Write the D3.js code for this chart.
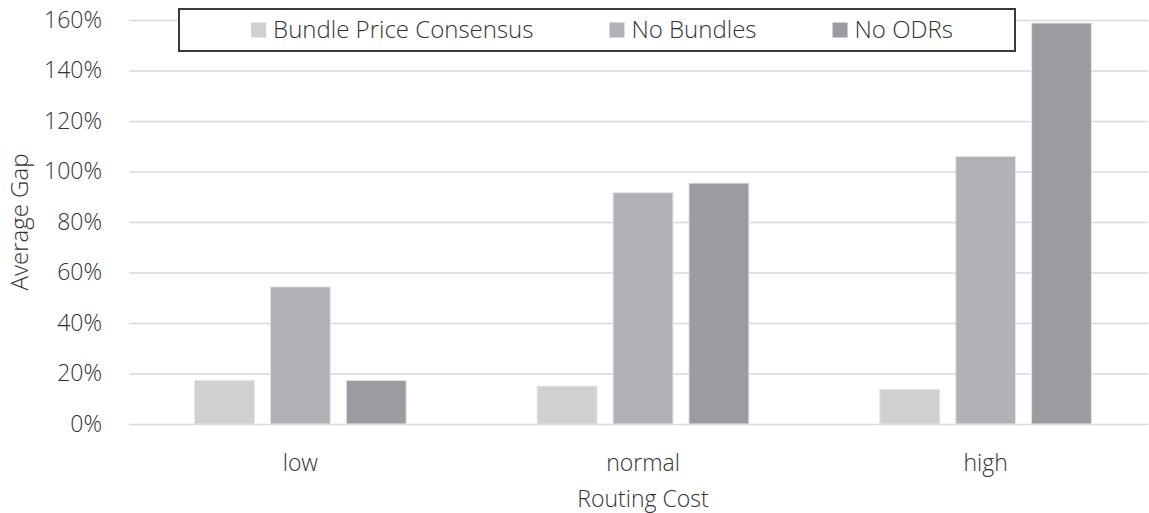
<!DOCTYPE html>
<html>
<head>
<meta charset="utf-8">
<script src="https://cdn.jsdelivr.net/npm/d3@7"></script>
<style>
  html, body { margin: 0; padding: 0; background: #fff; }
  svg { display: block; }
  text { font-family: "Open Sans", "Noto Sans", sans-serif; font-weight: 300; fill: #333; }
</style>
</head>
<body>
<svg id="chart" width="1149" height="513"></svg>
<script>
// Routing cost scenarios and the average gap of each method
const categories = ["low", "normal", "high"];
const seriesNames = ["Bundle Price Consensus", "No Bundles", "No ODRs"];
const bundlePriceConsensus = [0.173, 0.150, 0.137];
const noBundles = [0.543, 0.916, 1.060];
const noODRs = [0.173, 0.954, 1.588];
const yTicks = [0, 0.2, 0.4, 0.6, 0.8, 1.0, 1.2, 1.4, 1.6];
const seriesColors = ["#cfd0d2", "#b1b2b5", "#9b9ca0"];

const seriesValues = [bundlePriceConsensus, noBundles, noODRs];
const rows = categories.map((c, i) => ({
  category: c,
  values: seriesNames.map((s, j) => ({ series: s, value: seriesValues[j][i] }))
}));

const FONT = 23;
const LEGEND_FONT = 24;
const svg = d3.select("#chart");
const plot = { left: 129, right: 1157, top: 20, bottom: 424, gridEnd: 1148 };

const x0 = d3.scaleBand()
  .domain(categories)
  .range([plot.left, plot.right])
  .paddingInner(0.382)
  .paddingOuter(0.191);

const x1 = d3.scaleBand()
  .domain(seriesNames)
  .range([0, x0.bandwidth()])
  .paddingInner(0.21)
  .paddingOuter(0);

const y = d3.scaleLinear().domain([0, 1.6]).range([plot.bottom, plot.top]);
const color = d3.scaleOrdinal().domain(seriesNames).range(seriesColors);

// horizontal gridlines
svg.append("g")
  .attr("transform", `translate(${plot.left},0)`)
  .call(d3.axisLeft(y).tickValues(yTicks).tickSize(-(plot.gridEnd - plot.left)).tickFormat(""))
  .call(g => g.select(".domain").remove())
  .call(g => g.selectAll("line").attr("stroke", "#d9d9d9").attr("stroke-width", 1.5));

// y-axis tick labels
svg.append("g")
  .attr("transform", `translate(${plot.left},0)`)
  .call(d3.axisLeft(y).tickValues(yTicks).tickSize(0).tickPadding(27).tickFormat(d3.format(".0%")))
  .call(g => g.select(".domain").remove())
  .call(g => g.selectAll("text")
    .attr("font-size", FONT)
    .attr("font-family", null)
    .attr("fill", null));

// bars
svg.append("g")
  .selectAll("g")
  .data(rows)
  .join("g")
  .attr("transform", d => `translate(${x0(d.category)},0)`)
  .selectAll("rect")
  .data(d => d.values)
  .join("rect")
  .attr("x", d => x1(d.series))
  .attr("y", d => y(d.value))
  .attr("width", x1.bandwidth())
  .attr("height", d => y(0) - y(d.value))
  .attr("fill", d => color(d.series))
  .attr("stroke", "#e6e6e6")
  .attr("stroke-width", 1);

// x-axis category labels
svg.append("g")
  .attr("transform", `translate(0,${plot.bottom})`)
  .call(d3.axisBottom(x0).tickSize(0).tickPadding(31))
  .call(g => g.select(".domain").remove())
  .call(g => g.selectAll("text")
    .attr("font-size", FONT)
    .attr("font-family", null)
    .attr("fill", null));

// axis titles
svg.append("text")
  .attr("x", x0("normal") + x0.bandwidth() / 2)
  .attr("y", 507)
  .attr("text-anchor", "middle")
  .attr("font-size", FONT)
  .text("Routing Cost");

svg.append("text")
  .attr("transform", `translate(28,${(plot.top + plot.bottom) / 2}) rotate(-90)`)
  .attr("text-anchor", "middle")
  .attr("font-size", 24)
  .text("Average Gap");

// legend
const legendBox = { x: 179, y: 9, w: 836, h: 42 };
const legend = svg.append("g");
legend.append("rect")
  .attr("x", legendBox.x).attr("y", legendBox.y)
  .attr("width", legendBox.w).attr("height", legendBox.h)
  .attr("fill", "#fff").attr("stroke", "#3a3a3a").attr("stroke-width", 2);

const swatch = 15, swatchGap = 7, itemGap = 76;
const items = legend.selectAll("g.item")
  .data(seriesNames)
  .join("g")
  .attr("class", "item");
items.append("rect")
  .attr("width", swatch).attr("height", swatch)
  .attr("y", legendBox.y + legendBox.h / 2 - swatch / 2)
  .attr("fill", d => color(d));
items.append("text")
  .attr("font-size", LEGEND_FONT)
  .attr("dy", "0.35em")
  .attr("y", legendBox.y + legendBox.h / 2)
  .text(d => d);

const widths = [];
items.select("text").each(function () { widths.push(this.getComputedTextLength()); });
const total = d3.sum(widths, w => swatch + swatchGap + w) + itemGap * (widths.length - 1);
let cursor = legendBox.x + legendBox.w / 2 - total / 2 + 5;
items.each(function (d, i) {
  const g = d3.select(this);
  g.select("rect").attr("x", cursor);
  g.select("text").attr("x", cursor + swatch + swatchGap);
  cursor += swatch + swatchGap + widths[i] + itemGap;
});
</script>
</body>
</html>
